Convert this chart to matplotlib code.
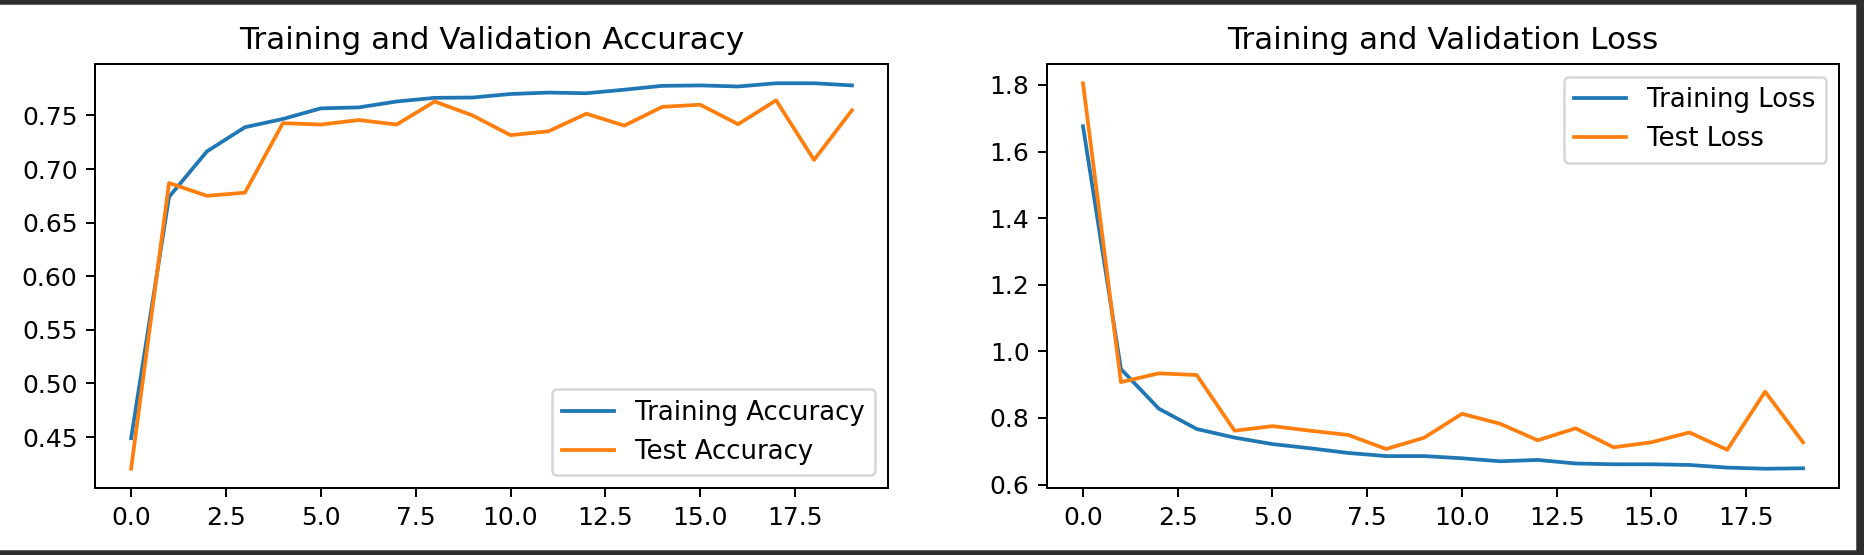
import matplotlib
matplotlib.use('Agg')
import matplotlib.pyplot as plt
from matplotlib.patches import Rectangle

# values
epochs = list(range(20))

train_acc = [0.449, 0.674, 0.7165, 0.739, 0.7467, 0.7566, 0.7575, 0.763, 0.7664, 0.7667,
             0.770, 0.7713, 0.7707, 0.774, 0.7776, 0.778, 0.777, 0.780, 0.780, 0.778]
test_acc = [0.4205, 0.687, 0.675, 0.678, 0.7428, 0.7415, 0.7457, 0.7415, 0.763, 0.750,
            0.7316, 0.7352, 0.7516, 0.7405, 0.758, 0.760, 0.7418, 0.7641, 0.7085, 0.7548]

train_loss = [1.676, 0.947, 0.828, 0.767, 0.741, 0.7216, 0.709, 0.695, 0.6856, 0.6856,
              0.679, 0.670, 0.674, 0.6634, 0.661, 0.661, 0.659, 0.651, 0.6476, 0.649]
test_loss = [1.805, 0.9077, 0.934, 0.929, 0.7618, 0.7755, 0.7618, 0.749, 0.7068, 0.7406,
             0.8125, 0.783, 0.733, 0.769, 0.712, 0.727, 0.7565, 0.7045, 0.879, 0.727]


def plot_history():
    fig = plt.figure(figsize=(1864 / 180, 555 / 180), dpi=180)

    ax1 = fig.add_axes([0.051, 0.1207, 0.4254, 0.764])
    ax1.plot(epochs, train_acc, label='Training Accuracy')
    ax1.plot(epochs, test_acc, label='Test Accuracy')
    ax1.legend(loc='lower right', fontsize=10.4)
    ax1.set_title('Training and Validation Accuracy', fontsize=12.4)

    ax2 = fig.add_axes([0.5617, 0.1207, 0.4249, 0.764])
    ax2.plot(epochs, train_loss, label='Training Loss')
    ax2.plot(epochs, test_loss, label='Test Loss')
    ax2.legend(loc='upper right', fontsize=10.4)
    ax2.set_title('Training and Validation Loss', fontsize=12.4)

    # dark notebook frame around the screenshot
    dark = '#2e2e2e'
    fig.patches.append(Rectangle((0, 1 - 3 / 555), 1, 3 / 555, transform=fig.transFigure,
                                 color=dark, zorder=10))
    fig.patches.append(Rectangle((0, 0), 1, 4 / 555, transform=fig.transFigure,
                                 color=dark, zorder=10))
    fig.patches.append(Rectangle((1857 / 1864, 0), 7 / 1864, 1, transform=fig.transFigure,
                                 color=dark, zorder=10))

    fig.savefig('out.png', dpi=180)


plot_history()
